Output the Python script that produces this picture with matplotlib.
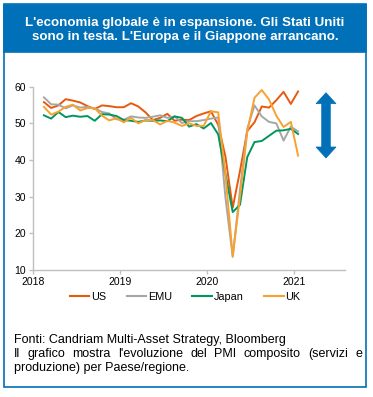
import matplotlib
matplotlib.use("Agg")
import matplotlib.pyplot as plt
import numpy as np
import pandas as pd
from matplotlib.patches import Rectangle, Polygon
from matplotlib.lines import Line2D

plt.rcParams["font.family"] = ["Liberation Sans", "DejaVu Sans"]

# Composite PMI, monthly Feb 2018 - Jan 2021
months = pd.date_range("2018-02-01", "2021-01-01", freq="MS")
us = [55.8, 54.2, 54.9, 56.6, 56.2, 55.7, 54.7, 53.9, 54.9, 54.7, 54.4,
      54.4, 55.5, 54.6, 53.0, 50.9, 51.5, 52.6, 50.7, 51.0, 50.9, 52.0, 52.7,
      53.3, 49.6, 40.9, 27.0, 37.0, 47.9, 50.3, 54.6, 54.3, 56.3, 58.6, 55.3,
      58.7]
emu = [57.1, 55.2, 55.1, 54.1, 54.9, 54.3, 54.5, 54.1, 53.1, 52.7, 51.1,
       51.0, 51.9, 51.6, 51.5, 51.8, 52.2, 51.5, 51.9, 50.1, 50.6, 50.6, 50.9,
       51.3, 51.6, 29.7, 13.6, 31.9, 48.5, 54.9, 51.9, 50.4, 50.0, 45.3, 49.1,
       47.8]
japan = [52.2, 51.3, 53.1, 51.7, 52.1, 51.8, 52.0, 50.7, 52.5, 52.4, 52.0,
         50.9, 50.7, 50.4, 50.8, 50.7, 50.8, 50.6, 51.9, 51.5, 49.1, 49.8, 48.6,
         50.1, 47.0, 36.2, 25.8, 27.8, 40.8, 44.9, 45.2, 46.6, 48.0, 48.1, 48.5,
         47.1]
uk = [54.5, 52.4, 53.2, 54.5, 55.1, 53.5, 54.2, 54.1, 52.1, 50.8, 51.4,
      50.3, 51.5, 50.0, 50.9, 50.9, 49.7, 50.7, 50.2, 49.3, 50.0, 49.3, 49.3,
      53.3, 53.0, 36.0, 13.8, 30.0, 47.7, 57.0, 59.1, 56.5, 52.1, 49.0, 50.4,
      41.2]

series = [("US", us, "#E8590C"), ("EMU", emu, "#A6A6A6"),
          ("Japan", japan, "#00965E"), ("UK", uk, "#F9A12E")]
year_ticks = [2018, 2019, 2020, 2021]
y_ticks = [10, 20, 30, 40, 50, 60]

title = ("L'economia globale è in espansione. Gli Stati Uniti\n"
         "sono in testa. L'Europa e il Giappone arrancano.")
source = "Fonti: Candriam Multi-Asset Strategy, Bloomberg"
note_l1 = "Il grafico mostra l'evoluzione del PMI composito (servizi e"
note_l2 = "produzione) per Paese/regione."

BLUE = "#0070B8"
W, H = 373, 397

fig = plt.figure(figsize=(W / 100, H / 100), dpi=100)

def fx(px):
    return px / W

def fy(py):
    return 1 - py / H

# frame + header band
fig.patches.append(Rectangle((fx(4), fy(387)), fx(362), (383) / H,
                             transform=fig.transFigure, fill=False,
                             edgecolor=BLUE, lw=1.2))
fig.patches.append(Rectangle((fx(4), fy(52)), fx(362), 47 / H,
                             transform=fig.transFigure, facecolor=BLUE,
                             edgecolor=BLUE, lw=1.2))
fig.text(fx(185), fy(30), title, color="white", fontsize=9.6, fontweight="bold",
         ha="center", va="center", linespacing=1.3)

ax = fig.add_axes([fx(33), fy(270), fx(345) - fx(33), fy(86.7) - fy(270)])
x = months.year + (months.month - 0.5) / 12
for name, vals, col in series:
    ax.plot(x, vals, color=col, lw=1.4, label=name, clip_on=False)

ax.set_xlim(2018, 2021.58)
ax.set_ylim(10, 60)
ax.set_xticks(year_ticks)
ax.set_xticklabels([str(y) for y in year_ticks])
ax.set_yticks(y_ticks)
for s in ["top", "right"]:
    ax.spines[s].set_visible(False)
for s in ["left", "bottom"]:
    ax.spines[s].set_color("#BFBFBF")
    ax.spines[s].set_linewidth(1.0)
ax.tick_params(axis="both", colors="#BFBFBF", labelcolor="black",
               labelsize=7.5, length=3, width=1.0, pad=2)
ax.set_facecolor("none")

# double-headed arrow on the right (pixel geometry)
cx, top, bot = 326, 92.7, 158
sw, hw, hl = 4.3, 10, 11
pts = [(cx, top), (cx + hw, top + hl), (cx + sw, top + hl), (cx + sw, bot - hl),
       (cx + hw, bot - hl), (cx, bot), (cx - hw, bot - hl), (cx - sw, bot - hl),
       (cx - sw, top + hl), (cx - hw, top + hl)]
fig.patches.append(Polygon([(fx(a), fy(b)) for a, b in pts], closed=True,
                           transform=fig.transFigure, facecolor=BLUE,
                           edgecolor=BLUE, lw=0.5))

handles = [Line2D([], [], color=c, lw=1.5) for _, _, c in series]
fig.legend(handles, [n for n, _, _ in series], loc="center",
           bbox_to_anchor=(fx(185), fy(296.5)), ncol=4, frameon=False,
           fontsize=7.8, handlelength=1.8, handletextpad=0.15,
           columnspacing=1.9)

# footer text; second line justified word by word
FS = 9.0
fig.text(fx(14), fy(340), source, fontsize=FS, va="center", ha="left")
fig.canvas.draw()
renderer = fig.canvas.get_renderer()
words = note_l1.split(" ")
objs = [fig.text(0, fy(354), w, fontsize=FS, va="center", ha="left")
        for w in words]
widths = [o.get_window_extent(renderer).width for o in objs]
gap = (362 - 14 - sum(widths)) / (len(words) - 1)
pos = 14
for o, w in zip(objs, widths):
    o.set_x(fx(pos))
    pos += w + gap
fig.text(fx(14), fy(368), note_l2, fontsize=FS, va="center", ha="left")

fig.savefig("out.png", dpi=100)
